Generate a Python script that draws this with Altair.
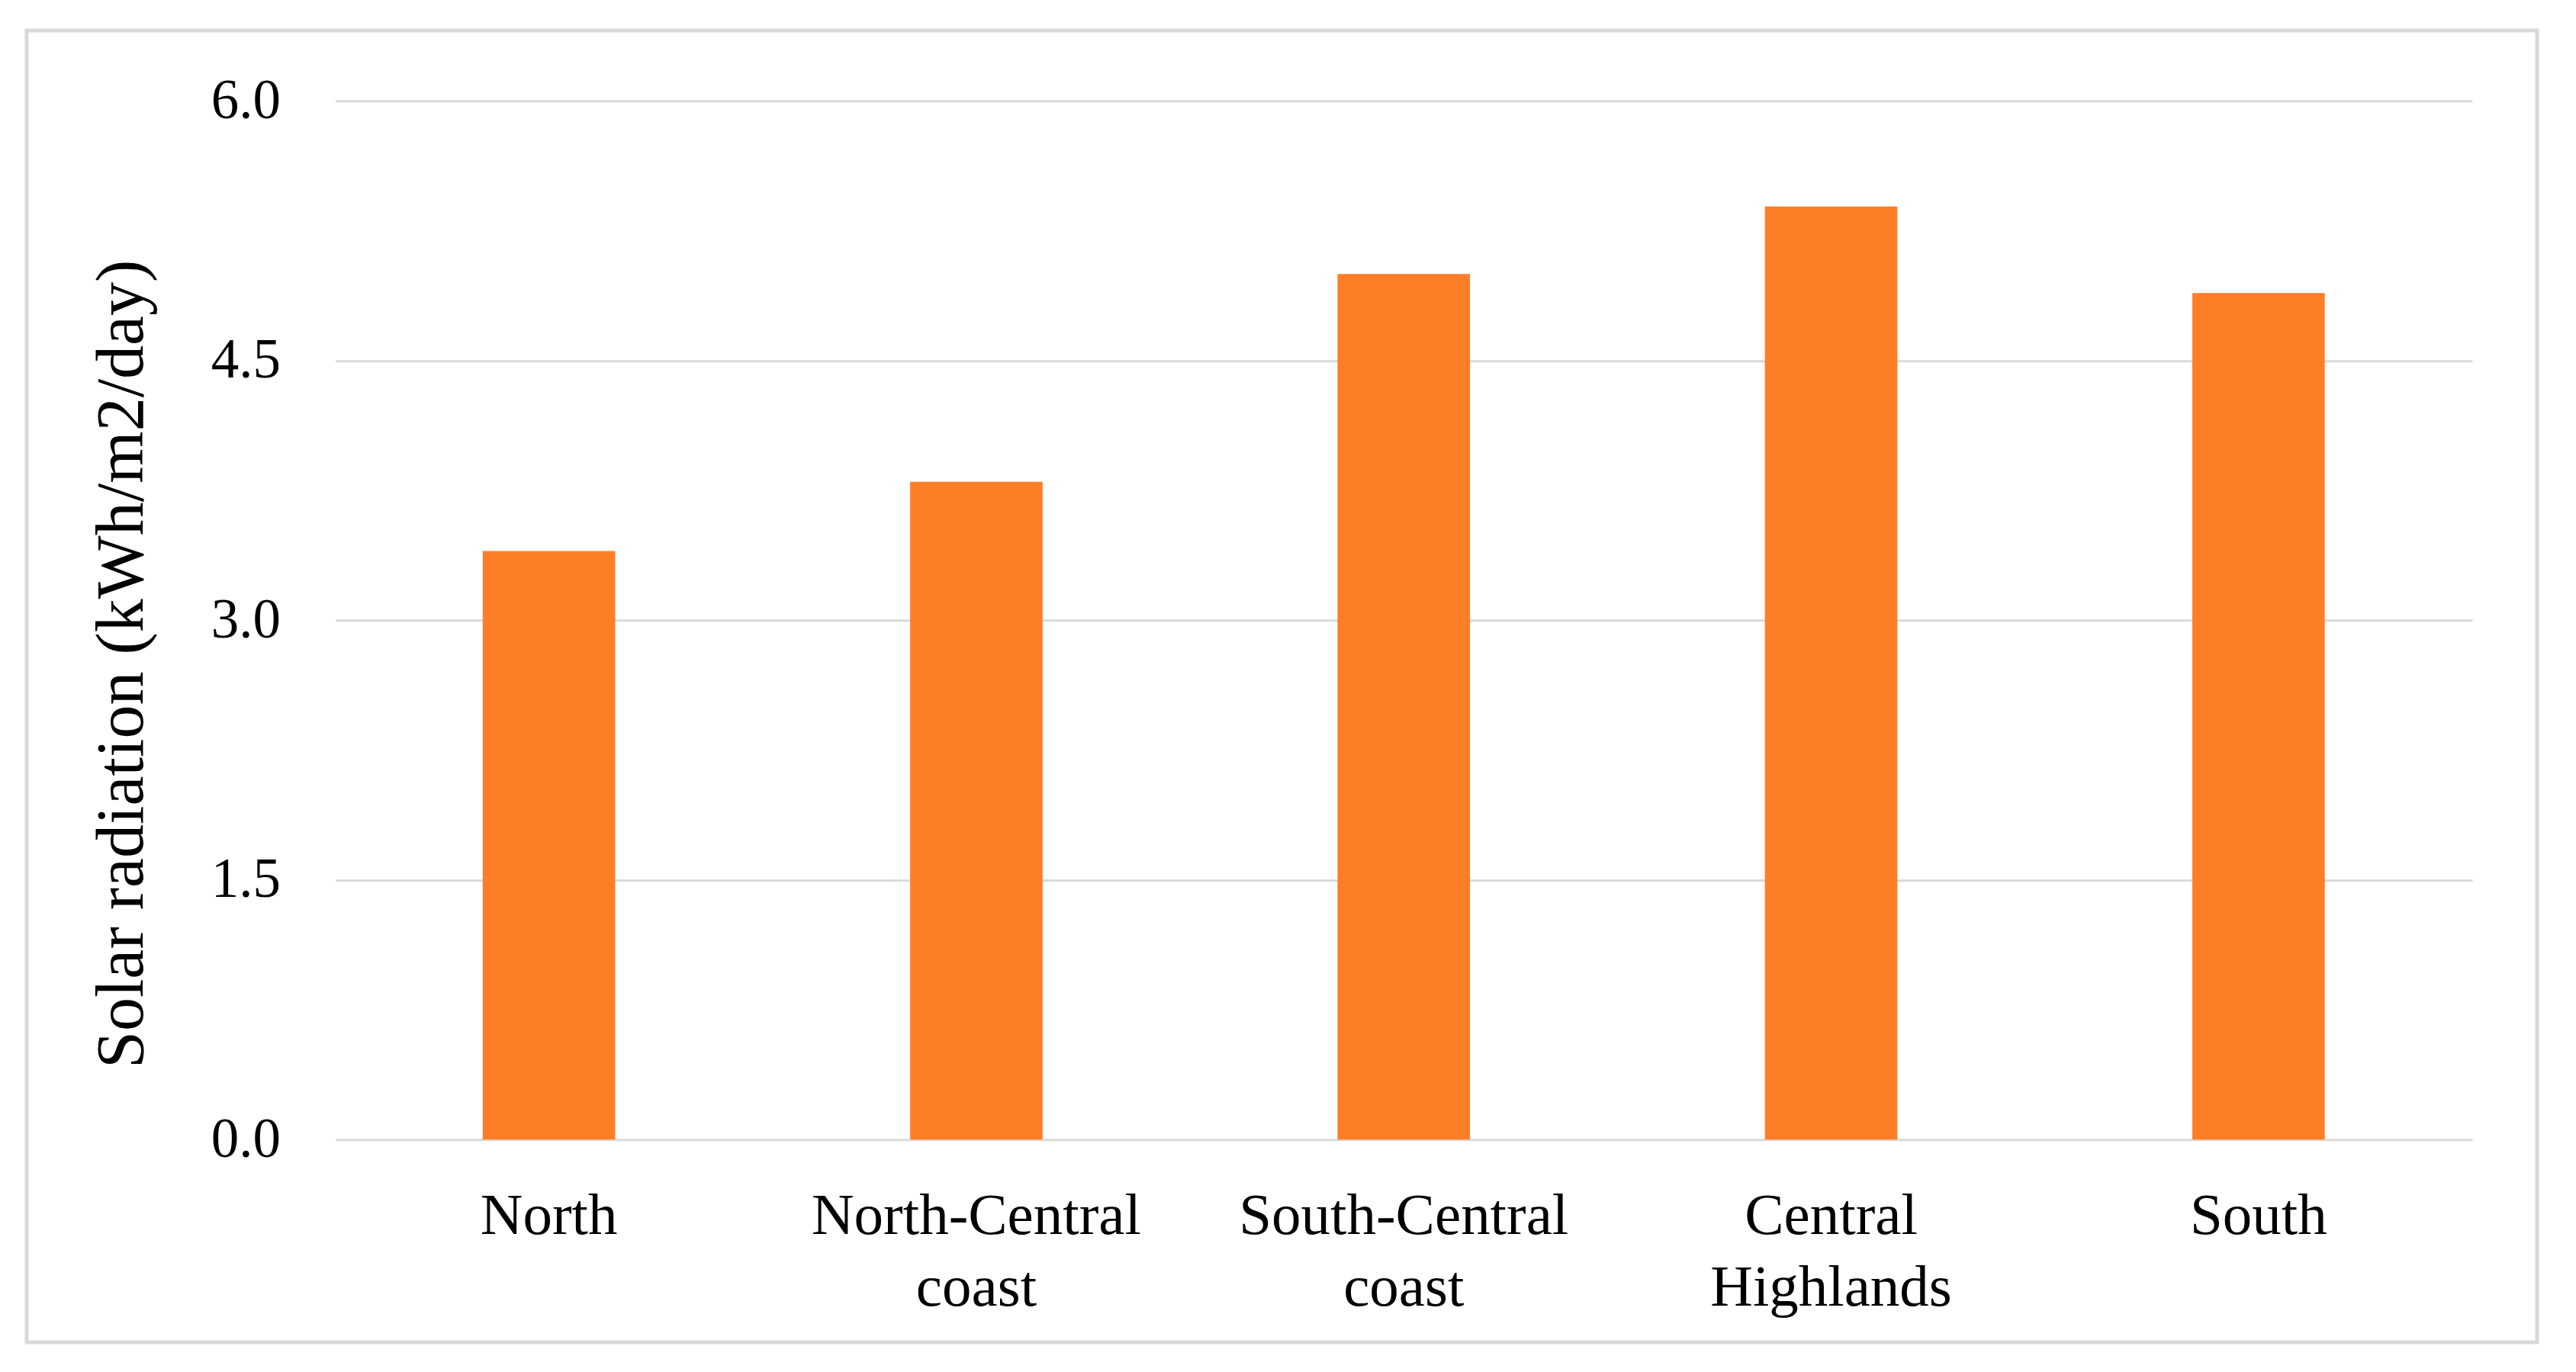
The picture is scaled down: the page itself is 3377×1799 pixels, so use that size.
import altair as alt
import pandas as pd

regions = ["North", "North-Central\ncoast", "South-Central\ncoast", "Central\nHighlands", "South"]
radiation = [3.4, 3.8, 5.0, 5.39, 4.89]
y_ticks = [0.0, 1.5, 3.0, 4.5, 6.0]
y_title = "Solar radiation (kWh/m2/day)"

FONT = "Liberation Serif"
BAR = "#fe7e28"
GRID = "#d9d9d9"

df = pd.DataFrame({"region": regions, "value": radiation})

W, H = 2801.5, 1362

bars = alt.Chart(df).mark_bar(color=BAR).encode(
    x=alt.X(
        "region:N",
        sort=regions,
        scale=alt.Scale(paddingInner=0.69, paddingOuter=0.345),
        axis=alt.Axis(
            title=None,
            labelAngle=0,
            labelExpr="split(datum.value, '\\n')",
            labelFont=FONT,
            labelFontSize=77,
            labelColor="#000000",
            labelLineHeight=94,
            labelBaseline="alphabetic",
            labelPadding=123,
            labelLimit=2000,
            ticks=False,
            domain=False,
            grid=False,
        ),
    ),
    y=alt.Y(
        "value:Q",
        scale=alt.Scale(domain=[0, 6], nice=False),
        axis=alt.Axis(
            values=y_ticks,
            format=".1f",
            title=y_title,
            titleFont=FONT,
            titleFontSize=88,
            titleFontWeight="normal",
            titleColor="#000000",
            titleAngle=270,
            titleAlign="center",
            titleBaseline="middle",
            titleX=-279.5,
            titleY=738,
            titleLimit=3000,
            labelFont=FONT,
            labelFontSize=73,
            labelColor="#000000",
            labelPadding=72,
            ticks=False,
            domain=False,
            grid=True,
            gridColor=GRID,
            gridWidth=3,
        ),
    ),
)

frame = alt.Chart(pd.DataFrame({"k": [0]})).mark_rect(
    filled=False, stroke=GRID, strokeWidth=5
).encode(
    x=alt.value(-404.5),
    x2=alt.value(2886.5),
    y=alt.value(-92.3),
    y2=alt.value(1627.7),
)

chart = alt.layer(frame, bars).properties(
    width=W,
    height=H,
    autosize=alt.AutoSizeParams(type="none"),
    padding={"left": 431.5, "top": 124.3, "right": 128, "bottom": 296},
    background="white",
).configure_view(stroke=None)

chart.save("out.html", embed_options={"renderer": "svg", "actions": False})
